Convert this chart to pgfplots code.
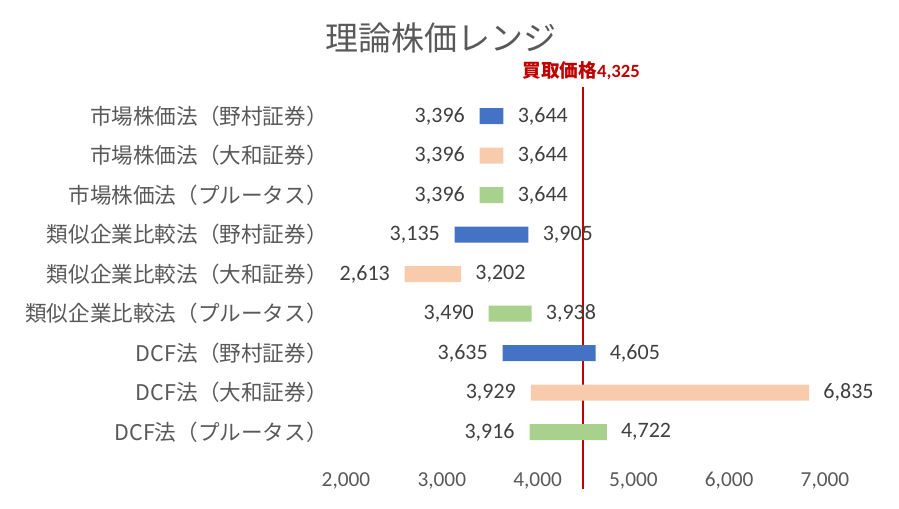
\documentclass[border=0pt]{standalone}
\usepackage{fontspec}
\usepackage{pgfplots}
\pgfplotsset{compat=1.18}
\setmainfont{Carlito}
\newfontfamily\jp{Noto Sans CJK JP}
\definecolor{cblue}{HTML}{4472C4}
\definecolor{cpeach}{HTML}{F8CBAD}
\definecolor{cgreen}{HTML}{A9D18E}
\definecolor{cred}{HTML}{C00000}
\definecolor{labgrey}{HTML}{595959}
\definecolor{valgrey}{HTML}{404040}
\tikzset{vlab/.style={font=\fontsize{16.5}{19}\selectfont, text=valgrey, inner sep=0pt}}
\begin{document}
\begin{tikzpicture}[x=0.75pt,y=0.75pt]
\useasboundingbox (0,0) rectangle (899,508);
\begin{axis}[
  at={(259.5pt,42.1875pt)}, anchor=south west,
  scale only axis, width=359.25pt, height=266.625pt,
  xmin=2000, xmax=7000, ymin=-0.5, ymax=8.5, y dir=reverse,
  xbar stacked, bar width=12pt,
  axis line style={draw=none}, major tick length=0pt,
  xtick={2000,3000,4000,5000,6000,7000},
  scaled x ticks=false,
  /pgf/number format/1000 sep={,},
  /pgf/number format/assume math mode=true,
  ytick={0,1,2,3,4,5,6,7,8},
  yticklabels={市場株価法（野村証券）,市場株価法（大和証券）,市場株価法（プルータス）,類似企業比較法（野村証券）,類似企業比較法（大和証券）,類似企業比較法（プルータス）,DCF法（野村証券）,DCF法（大和証券）,DCF法（プルータス）},
  yticklabel style={font=\jp\fontsize{16.2}{19}\selectfont, text=labgrey, anchor=east, inner sep=0pt, xshift=-13.5pt},
  xticklabel style={font=\fontsize{16}{19}\selectfont, text=labgrey, anchor=base, inner sep=0pt, yshift=-26.4pt},
  clip=false,
]
\addplot[fill=none, draw=none] coordinates {(3396,0) (3396,1) (3396,2) (3135,3) (2613,4) (3490,5) (3635,6) (3929,7) (3916,8)};
\addplot[fill=cblue, draw=none] coordinates {(248,0) (0,1) (0,2) (770,3) (0,4) (0,5) (970,6) (0,7) (0,8)};
\addplot[fill=cpeach, draw=none] coordinates {(0,0) (248,1) (0,2) (0,3) (589,4) (0,5) (0,6) (2906,7) (0,8)};
\addplot[fill=cgreen, draw=none] coordinates {(0,0) (0,1) (248,2) (0,3) (0,4) (448,5) (0,6) (0,7) (806,8)};

\node[vlab, anchor=east, xshift=-11pt] at (axis cs:3396,0) {3,396};
\node[vlab, anchor=east, xshift=-11pt] at (axis cs:3396,1) {3,396};
\node[vlab, anchor=east, xshift=-11pt] at (axis cs:3396,2) {3,396};
\node[vlab, anchor=east, xshift=-11pt] at (axis cs:3135,3) {3,135};
\node[vlab, anchor=east, xshift=-11pt] at (axis cs:2613,4) {2,613};
\node[vlab, anchor=east, xshift=-11pt] at (axis cs:3490,5) {3,490};
\node[vlab, anchor=east, xshift=-11pt] at (axis cs:3635,6) {3,635};
\node[vlab, anchor=east, xshift=-11pt] at (axis cs:3929,7) {3,929};
\node[vlab, anchor=east, xshift=-11pt] at (axis cs:3916,8) {3,916};

\node[vlab, anchor=west, xshift=10.5pt] at (axis cs:3644,0) {3,644};
\node[vlab, anchor=west, xshift=10.5pt] at (axis cs:3644,1) {3,644};
\node[vlab, anchor=west, xshift=10.5pt] at (axis cs:3644,2) {3,644};
\node[vlab, anchor=west, xshift=10.5pt] at (axis cs:3905,3) {3,905};
\node[vlab, anchor=west, xshift=10.5pt] at (axis cs:3202,4) {3,202};
\node[vlab, anchor=west, xshift=10.5pt] at (axis cs:3938,5) {3,938};
\node[vlab, anchor=west, xshift=10.5pt] at (axis cs:4605,6) {4,605};
\node[vlab, anchor=west, xshift=10.5pt] at (axis cs:6835,7) {6,835};
\node[vlab, anchor=west, xshift=10.5pt] at (axis cs:4722,8) {4,722};

\draw[cred, line width=2pt] (axis cs:4475,-0.734) -- (axis cs:4475,9.44);
\node[anchor=base, text=cred, inner sep=0pt, xshift=-1.5pt, yshift=7.5pt, font=\bfseries\fontsize{14}{16}\selectfont] at (axis cs:4475,-0.734) {{\jp 買取価格}4,325};
\end{axis}
\node[font=\jp\fontsize{24.75}{28}\selectfont, text=labgrey, inner sep=0pt] at (441,470) {理論株価レンジ};
\end{tikzpicture}
\end{document}
